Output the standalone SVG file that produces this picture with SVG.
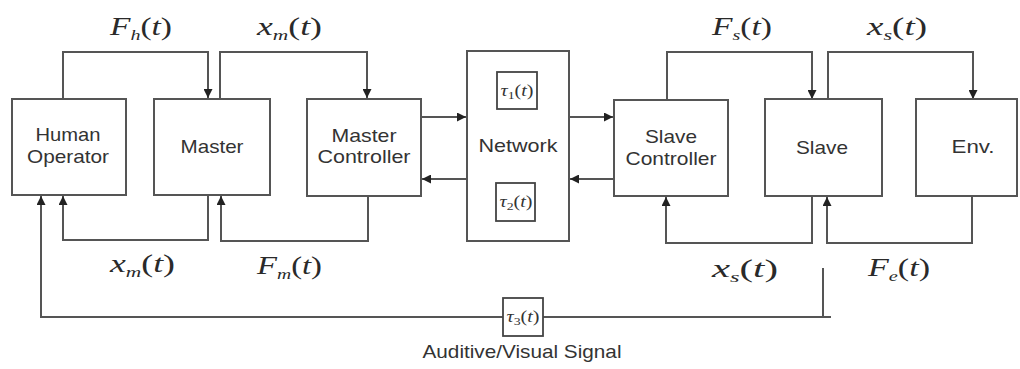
<svg xmlns="http://www.w3.org/2000/svg" width="1020" height="369" viewBox="0 0 1020 369">
<style>
.box{fill:#fff;stroke:#555;stroke-width:2}
.sbox{fill:#fff;stroke:#444;stroke-width:1.8}
.line{fill:none;stroke:#555;stroke-width:2}
.lbl{font-family:"Liberation Sans",Arial,sans-serif;font-size:19px;fill:#333;text-anchor:middle}
.math{font-family:"Liberation Serif","Times New Roman",serif;font-size:25px;fill:#2a2a2a}
.it{font-style:italic}
.tau{font-family:"Liberation Serif","Times New Roman",serif;font-size:16px;fill:#333;text-anchor:middle}
</style>
<defs>
<marker id="ah" viewBox="0 0 10 10" refX="10" refY="5" markerWidth="9" markerHeight="9" markerUnits="userSpaceOnUse" orient="auto">
<path d="M0,0 L10,5 L0,10 z" fill="#222"/>
</marker>
</defs>
<rect width="1020" height="369" fill="#fff"/>

<g id="connectors">
<path class="line" d="M63,99 V52 H208 V98" marker-end="url(#ah)"/>
<path class="line" d="M220,99 V52 H367 V98" marker-end="url(#ah)"/>
<path class="line" d="M421,117 H466" marker-end="url(#ah)"/>
<path class="line" d="M467,179 H422" marker-end="url(#ah)"/>
<path class="line" d="M569,117 H613" marker-end="url(#ah)"/>
<path class="line" d="M614,179 H570" marker-end="url(#ah)"/>
<path class="line" d="M667,100 V52 H812 V99" marker-end="url(#ah)"/>
<path class="line" d="M828,99 V52 H973 V99" marker-end="url(#ah)"/>
<path class="line" d="M208,195 V240 H63 V196" marker-end="url(#ah)"/>
<path class="line" d="M368,196 V241 H221 V196" marker-end="url(#ah)"/>
<path class="line" d="M812,196 V243 H666 V197" marker-end="url(#ah)"/>
<path class="line" d="M972,196 V243 H827 V197" marker-end="url(#ah)"/>
<path class="line" d="M823,268 V317 M831,317 H543"/>
<path class="line" d="M503,317 H41 V196" marker-end="url(#ah)"/>
</g>

<g id="human-operator">
<rect class="box" x="12" y="99" width="114" height="96"/>
<text class="lbl" x="68" y="141" textLength="65" lengthAdjust="spacingAndGlyphs">Human</text>
<text class="lbl" x="68" y="163" textLength="82" lengthAdjust="spacingAndGlyphs">Operator</text>
</g>

<g id="master">
<rect class="box" x="154" y="99" width="116" height="96"/>
<text class="lbl" x="212" y="153" textLength="63" lengthAdjust="spacingAndGlyphs">Master</text>
</g>

<g id="master-controller">
<rect class="box" x="307" y="99" width="114" height="97"/>
<text class="lbl" x="364" y="142" textLength="65" lengthAdjust="spacingAndGlyphs">Master</text>
<text class="lbl" x="364" y="163" textLength="93" lengthAdjust="spacingAndGlyphs">Controller</text>
</g>

<g id="network">
<rect class="box" x="467" y="51" width="102" height="190"/>
<text class="lbl" x="518" y="152" textLength="79" lengthAdjust="spacingAndGlyphs">Network</text>
<rect class="sbox" x="497" y="72" width="40" height="37"/>
<text class="tau" x="517" y="96" textLength="33" lengthAdjust="spacingAndGlyphs"><tspan class="it">τ</tspan><tspan font-size="11" dy="3">1</tspan><tspan dy="-3">(</tspan><tspan class="it">t</tspan>)</text>
<rect class="sbox" x="496" y="183" width="39" height="38"/>
<text class="tau" x="516" y="207" textLength="33" lengthAdjust="spacingAndGlyphs"><tspan class="it">τ</tspan><tspan font-size="11" dy="3">2</tspan><tspan dy="-3">(</tspan><tspan class="it">t</tspan>)</text>
</g>

<g id="slave-controller">
<rect class="box" x="614" y="100" width="114" height="96"/>
<text class="lbl" x="671" y="143" textLength="52" lengthAdjust="spacingAndGlyphs">Slave</text>
<text class="lbl" x="671" y="165" textLength="91" lengthAdjust="spacingAndGlyphs">Controller</text>
</g>

<g id="slave">
<rect class="box" x="765" y="99" width="117" height="97"/>
<text class="lbl" x="822" y="154" textLength="52" lengthAdjust="spacingAndGlyphs">Slave</text>
</g>

<g id="env">
<rect class="box" x="916" y="99" width="101" height="97"/>
<text class="lbl" x="973" y="153" textLength="43" lengthAdjust="spacingAndGlyphs">Env.</text>
</g>

<g id="delay3">
<rect class="sbox" x="503" y="298" width="40" height="38"/>
<text class="tau" x="523" y="322" textLength="33" lengthAdjust="spacingAndGlyphs"><tspan class="it">τ</tspan><tspan font-size="11" dy="3">3</tspan><tspan dy="-3">(</tspan><tspan class="it">t</tspan>)</text>
</g>

<g id="labels">
<text class="math" x="110" y="35" textLength="62" lengthAdjust="spacingAndGlyphs"><tspan class="it">F</tspan><tspan class="it" font-size="15" dy="5">h</tspan><tspan dy="-5">(</tspan><tspan class="it">t</tspan>)</text>
<text class="math" x="257" y="35" textLength="65" lengthAdjust="spacingAndGlyphs"><tspan class="it">x</tspan><tspan class="it" font-size="15" dy="5">m</tspan><tspan dy="-5">(</tspan><tspan class="it">t</tspan>)</text>
<text class="math" x="712" y="35" textLength="60" lengthAdjust="spacingAndGlyphs"><tspan class="it">F</tspan><tspan class="it" font-size="15" dy="5">s</tspan><tspan dy="-5">(</tspan><tspan class="it">t</tspan>)</text>
<text class="math" x="867" y="35" textLength="60" lengthAdjust="spacingAndGlyphs"><tspan class="it">x</tspan><tspan class="it" font-size="15" dy="5">s</tspan><tspan dy="-5">(</tspan><tspan class="it">t</tspan>)</text>
<text class="math" x="110" y="272" textLength="65" lengthAdjust="spacingAndGlyphs"><tspan class="it">x</tspan><tspan class="it" font-size="15" dy="5">m</tspan><tspan dy="-5">(</tspan><tspan class="it">t</tspan>)</text>
<text class="math" x="257" y="274" textLength="65" lengthAdjust="spacingAndGlyphs"><tspan class="it">F</tspan><tspan class="it" font-size="15" dy="5">m</tspan><tspan dy="-5">(</tspan><tspan class="it">t</tspan>)</text>
<text class="math" x="712" y="277" textLength="66" lengthAdjust="spacingAndGlyphs"><tspan class="it">x</tspan><tspan class="it" font-size="15" dy="5">s</tspan><tspan dy="-5">(</tspan><tspan class="it">t</tspan>)</text>
<text class="math" x="868" y="276" textLength="62" lengthAdjust="spacingAndGlyphs"><tspan class="it">F</tspan><tspan class="it" font-size="15" dy="5">e</tspan><tspan dy="-5">(</tspan><tspan class="it">t</tspan>)</text>
<text class="lbl" x="522" y="358" font-size="16" textLength="199" lengthAdjust="spacingAndGlyphs">Auditive/Visual Signal</text>
</g>
</svg>
